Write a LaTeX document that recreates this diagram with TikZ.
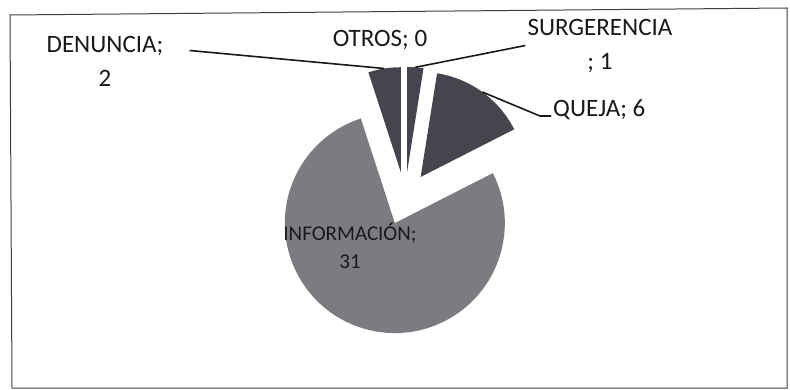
\documentclass[tikz,border=0pt]{standalone}
\usepackage{fontspec}
\setmainfont{Carlito}
\usetikzlibrary{calc}
\definecolor{darkslice}{RGB}{70,68,76}
\definecolor{infoslice}{RGB}{126,122,130}

\begin{document}
\begin{tikzpicture}[x=1pt, y=-1pt,
  every node/.style = {align=center, inner sep=2pt, text=black!90,
    font=\fontsize{25}{34}\selectfont},
  leader/.style = {draw=black!90, line width=1.6pt},
  small slice/.style = {fill=darkslice},
  big slice/.style = {fill=infoslice}]
  \useasboundingbox (0,0) rectangle (790,390);
  \draw[black!75, line width=1pt] (10,15) -- (787,8) -- (787,388) -- (12,388) -- cycle;
  % pie centre, every slice pulled out from it
  \coordinate (centre) at (405,198.5);
  \coordinate (surtip) at ($(centre)+(-85.5:26.6)$);
  \coordinate (quetip) at ($(centre)+(-54:26.6)$);
  \coordinate (inftip) at ($(centre)+(112.5:26.6)$);
  \coordinate (dentip) at ($(centre)+(261:26.6)$);
  \fill[small slice] (surtip) -- ++(-90:105) arc[start angle=-90, end angle=-81, radius=105] -- cycle;
  \fill[small slice] (quetip) -- ++(-81:105) arc[start angle=-81, end angle=-27, radius=105] -- cycle;
  \fill[big slice] (inftip) -- ++(-27:110) arc[start angle=-27, end angle=252, radius=110] -- cycle;
  \fill[small slice] (dentip) -- ++(252:105) arc[start angle=252, end angle=270, radius=105] -- cycle;
  \coordinate (surarc) at ($(surtip)+(-85.5:105)$);
  \coordinate (quearc) at ($(quetip)+(-54:105)$);
  \coordinate (denarc) at ($(dentip)+(261:105)$);
  % labels
  \node (denlbl) at (105,61.5) {DENUNCIA;\\2};
  \node (otrlbl) at (380,40) {OTROS; 0};
  \node (surlbl) at (600,45.5) {SURGERENCIA\\; 1};
  \node[anchor=west] (quelbl) at (551,110) {QUEJA; 6};
  \node[font=\fontsize{21}{28}\selectfont] (inflbl) at (350,246) {INFORMACIÓN;\\31};
  % leader lines
  \draw[leader] ([xshift=24pt, yshift=11pt]denlbl.east) -- (denarc);
  \draw[leader] (surlbl.west) -- (surarc);
  \draw[leader] (quearc) -- ([xshift=-11pt, yshift=-6pt]quelbl.west) -- ([yshift=-6pt]quelbl.west);
\end{tikzpicture}
\end{document}
